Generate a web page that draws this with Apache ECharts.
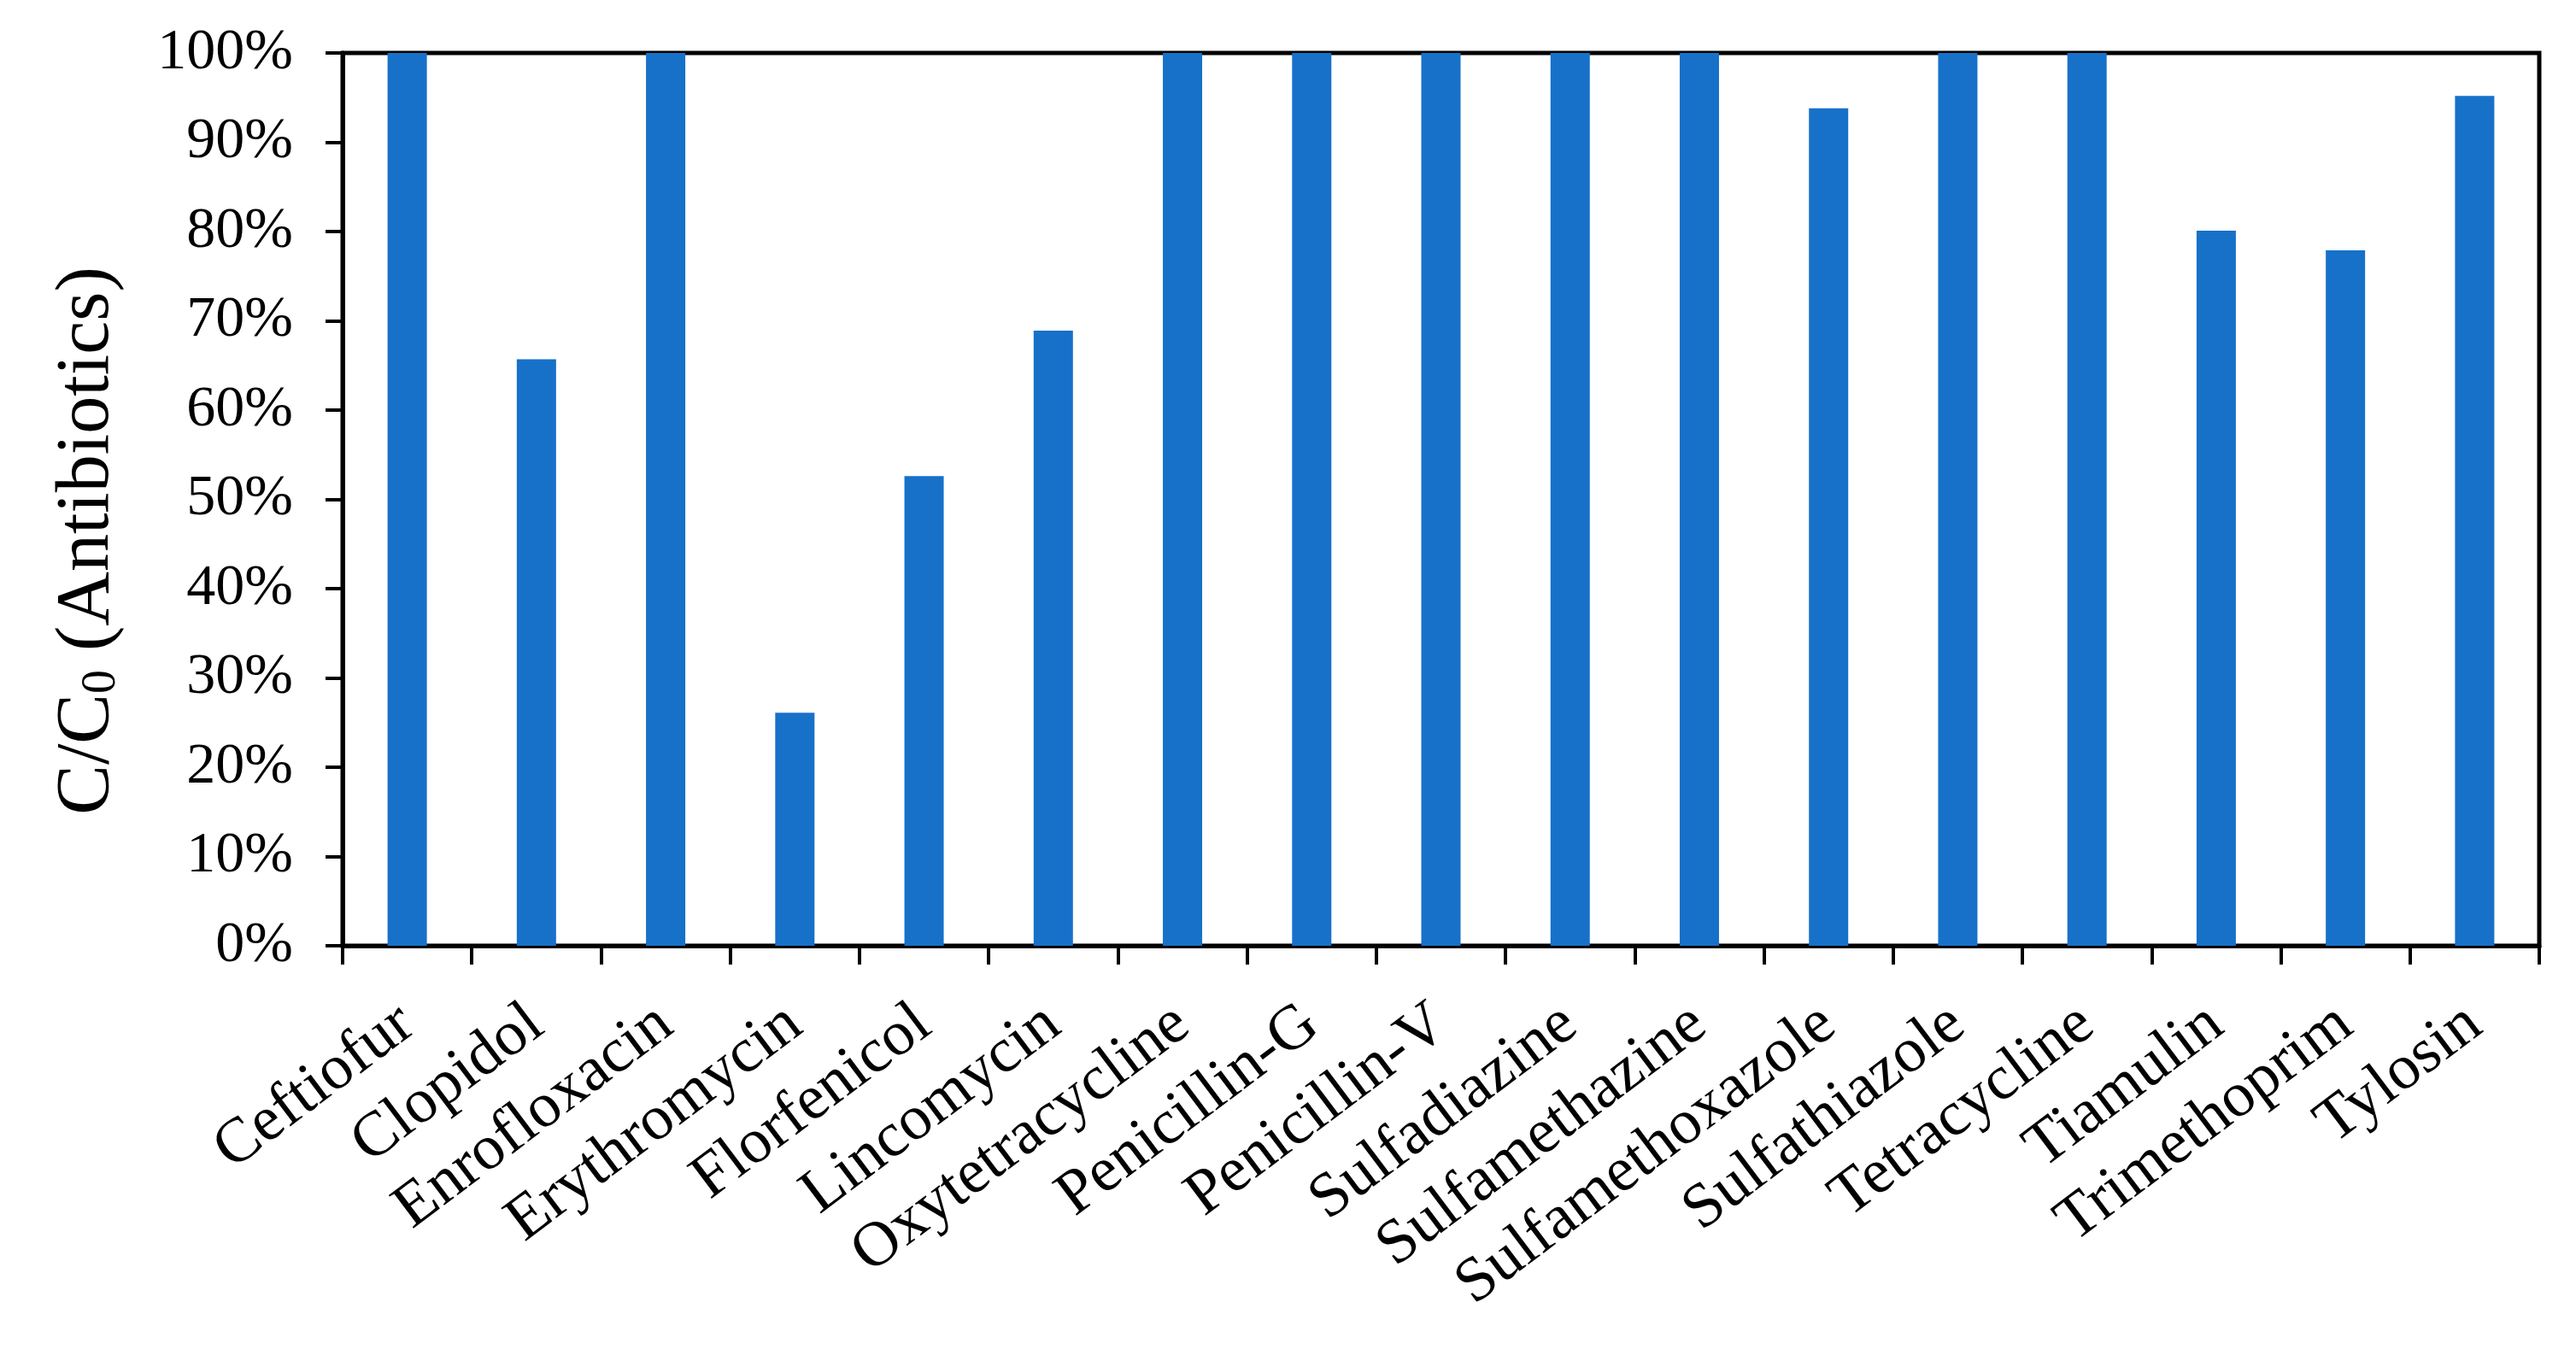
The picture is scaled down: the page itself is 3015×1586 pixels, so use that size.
<!DOCTYPE html>
<html>
<head>
<meta charset="utf-8">
<script src="https://cdn.jsdelivr.net/npm/echarts@6/dist/echarts.min.js"></script>
<style>
html,body{margin:0;padding:0;background:#fff;}
#chart{width:3015px;height:1586px;}
</style>
</head>
<body>
<div id="chart"></div>
<script>
const categories = ['Ceftiofur','Clopidol','Enrofloxacin','Erythromycin','Florfenicol','Lincomycin','Oxytetracycline','Penicillin-G','Penicillin-V','Sulfadiazine','Sulfamethazine','Sulfamethoxazole','Sulfathiazole','Tetracycline','Tiamulin','Trimethoprim','Tylosin'];
const ratioPercent = [100, 65.7, 100, 26.1, 52.6, 68.9, 100, 100, 100, 100, 100, 93.8, 100, 100, 80.1, 77.9, 95.2];
const yMin = 0, yMax = 100, yStep = 10;

const FONT = "'Liberation Serif','Times New Roman',serif";
const chart = echarts.init(document.getElementById('chart'));
chart.setOption({
  backgroundColor: '#ffffff',
  animation: false,
  grid: {left: 401, right: 43, top: 62, bottom: 479, show: true, borderColor: '#000', borderWidth: 5, backgroundColor: 'transparent'},
  xAxis: {
    type: 'category',
    data: categories,
    boundaryGap: true,
    axisLine: {show: true, lineStyle: {color: '#000', width: 5}},
    axisTick: {show: true, length: 22, inside: false, lineStyle: {color: '#000', width: 4}},
    axisLabel: {rotate: 37, margin: 84, interval: 0, color: '#000', fontFamily: FONT, fontSize: 74},
    splitLine: {show: false}
  },
  yAxis: {
    type: 'value',
    min: yMin, max: yMax, interval: yStep,
    axisLine: {show: true, lineStyle: {color: '#000', width: 5}},
    axisTick: {show: true, length: 20, inside: false, lineStyle: {color: '#000', width: 4}},
    axisLabel: {formatter: '{value}%', margin: 58, color: '#000', fontFamily: FONT, fontSize: 68},
    splitLine: {show: false}
  },
  series: [{
    type: 'bar',
    data: ratioPercent,
    barWidth: 46,
    itemStyle: {color: '#1771c9'}
  }],
  graphic: [{
    type: 'text',
    x: 103, y: 633,
    rotation: Math.PI / 2,
    style: {
      text: 'C/C{sub|0} (Antibiotics)',
      fill: '#000',
      font: "88px 'Liberation Serif','Times New Roman',serif",
      align: 'center',
      verticalAlign: 'middle',
      rich: {
        sub: {fontSize: 56, fontFamily: FONT, fill: '#000', verticalAlign: 'bottom', padding: [28, 0, 0, 0]}
      }
    }
  }]
});
</script>
</body>
</html>
